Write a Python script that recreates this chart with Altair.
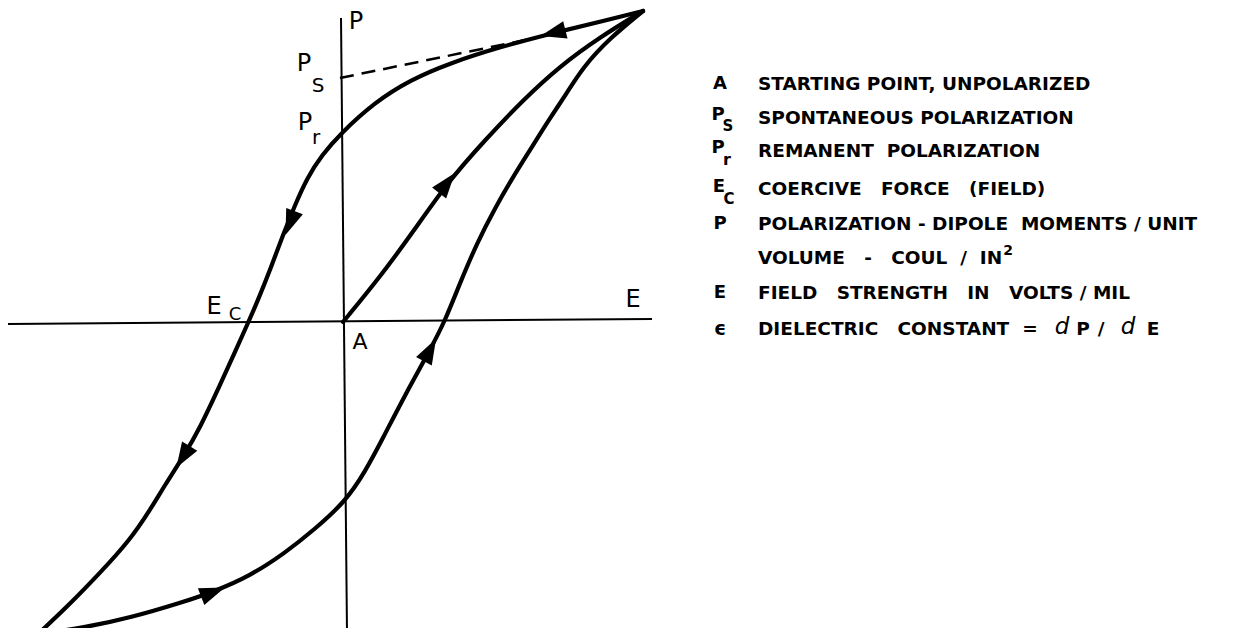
import math
import altair as alt
import pandas as pd

# ---------------- data (E: field, P: polarization; origin at A) ----------------
# descending (upper) branch, in travel order: top tip -> bottom tip
upper_E = [3.00, 2.64, 2.10, 1.57, 1.07, 0.67, 0.32, -0.03, -0.21, -0.36, -0.48, -0.60,
           -0.73, -0.85, -0.95, -1.08, -1.23, -1.43, -1.60, -1.78, -1.93, -2.13, -2.43,
           -2.76, -3.05]
upper_P = [3.11, 3.02, 2.89, 2.75, 2.59, 2.42, 2.20, 1.88, 1.67, 1.44, 1.17, 0.87,
           0.52, 0.22, -0.01, -0.30, -0.63, -1.06, -1.35, -1.63, -1.88, -2.18, -2.51,
           -2.85, -3.12]
# ascending (lower) branch, in travel order: bottom tip -> top tip
lower_E = [-3.05, -2.60, -2.10, -1.63, -1.30, -0.93, -0.58, -0.28, 0.02, 0.22, 0.40,
           0.62, 0.87, 1.02, 1.17, 1.34, 1.52, 1.70, 1.89, 2.07, 2.22, 2.40, 2.67, 3.00]
lower_P = [-3.12, -3.06, -2.95, -2.81, -2.70, -2.54, -2.31, -2.07, -1.80, -1.50, -1.16,
           -0.73, -0.28, 0.01, 0.39, 0.79, 1.14, 1.45, 1.75, 2.04, 2.26, 2.55, 2.84, 3.11]
# initial polarization curve from A (unpolarized) to the tip
initial_E = [0.00, 0.37, 0.70, 1.04, 1.42, 1.80, 2.17, 2.57, 3.00]
initial_P = [0.00, 0.45, 0.90, 1.39, 1.82, 2.22, 2.56, 2.85, 3.11]

# arrowheads: branch and position
arrow_branch = ["upper", "upper", "upper", "initial", "lower", "lower"]
arrow_E = [2.10, -0.53, -1.60, 1.04, -1.30, 0.87]
arrow_P = [2.89, 0.99, -1.35, 1.39, -2.70, -0.28]

# axes (slightly hand-drawn)
axis_E = [-3.35, -0.02]
axis_P = [-0.02, 3.04]
axis_E2 = [3.09, 0.04]
axis_P2 = [0.03, -3.12]

# dashed tangent from Ps
dash_E, dash_P, dash_E2, dash_P2 = [-0.03], [2.44], [1.92], [2.84]

# diagram labels
lab_text = ["P", "P", "S", "P", "r", "E", "C", "A", "E"]
lab_E = [0.13, -0.39, -0.25, -0.38, -0.27, -1.29, -1.08, 0.17, 2.90]
lab_P = [3.00, 2.58, 2.36, 1.99, 1.84, 0.15, 0.07, -0.20, 0.22]
lab_size = [24, 24, 20, 24, 20, 24, 18, 22, 24]

# legend
NB = "\u00a0"
leg_rows_P = [2.38, 2.04, 1.71, 1.33, 0.98, 0.64, 0.29, -0.07]
leg_sym = ["A", "P", "S", "P", "r", "E", "C", "P", "E", "\u03f5"]
leg_sym_E = [3.77, 3.75, 3.85, 3.75, 3.84, 3.76, 3.86, 3.77, 3.77, 3.77]
leg_sym_P = [2.38, 2.07, 1.96, 1.74, 1.62, 1.35, 1.23, 0.98, 0.29, -0.07]
leg_sym_size = [18, 18, 15, 18, 16, 18, 15, 18, 18, 19]

leg_text = ["STARTING POINT, UNPOLARIZED",
            "SPONTANEOUS POLARIZATION",
            "REMANENT " + NB + "POLARIZATION",
            "COERCIVE " + NB * 2 + "FORCE " + NB * 2 + "(FIELD)",
            "POLARIZATION - DIPOLE " + NB + "MOMENTS / UNIT",
            "VOLUME " + NB * 2 + "- " + NB * 2 + "COUL " + NB + "/ " + NB + "IN",
            "FIELD " + NB * 2 + "STRENGTH " + NB * 2 + "IN " + NB * 2 + "VOLTS / MIL",
            "DIELECTRIC " + NB * 2 + "CONSTANT"]
leg_text_E = [4.15] * 8

sup_text, sup_E, sup_P = ["2"], [6.65], [0.71]

eq_text = ["=", "P", "/", "E"]
eq_E = [6.87, 7.40, 7.58, 8.10]
eq_P = [-0.07, -0.07, -0.07, -0.07]
ital_text = ["d", "d"]
ital_E = [7.19, 7.85]
ital_P = [-0.05, -0.05]

# ---------------- tables ----------------
def branch_df(name, es, ps):
    return pd.DataFrame({"branch": name, "idx": range(len(es)), "E": es, "P": ps})

branches = {"upper": (upper_E, upper_P), "lower": (lower_E, lower_P),
            "initial": (initial_E, initial_P)}
curves = pd.concat([branch_df(k, *v) for k, v in branches.items()], ignore_index=True)

angles = []
for b, ae, ap in zip(arrow_branch, arrow_E, arrow_P):
    es, ps = branches[b]
    i = min(range(len(es)), key=lambda k: (es[k] - ae) ** 2 + (ps[k] - ap) ** 2)
    j0, j1 = max(i - 1, 0), min(i + 1, len(es) - 1)
    dE, dP = es[j1] - es[j0], ps[j1] - ps[j0]
    angles.append(math.degrees(math.atan2(dE, dP)) % 360)
arrows = pd.DataFrame({"E": arrow_E, "P": arrow_P, "angle": angles})

axes_df = pd.DataFrame({"E": axis_E, "P": axis_P, "E2": axis_E2, "P2": axis_P2})
dash_df = pd.DataFrame({"E": dash_E, "P": dash_P, "E2": dash_E2, "P2": dash_P2})
labels = pd.DataFrame({"t": lab_text, "E": lab_E, "P": lab_P, "s": lab_size})
legsym = pd.DataFrame({"t": leg_sym, "E": leg_sym_E, "P": leg_sym_P, "s": leg_sym_size})
legtxt = pd.DataFrame({"t": leg_text, "E": leg_text_E, "P": leg_rows_P})
suptxt = pd.DataFrame({"t": sup_text, "E": sup_E, "P": sup_P})
eqtxt = pd.DataFrame({"t": eq_text, "E": eq_E, "P": eq_P})
itxt = pd.DataFrame({"t": ital_text, "E": ital_E, "P": ital_P})

# ---------------- chart ----------------
XS = alt.Scale(domain=[-3.35, 8.91], nice=False, zero=False)
YS = alt.Scale(domain=[-3.06, 3.14], nice=False, zero=False)
X = alt.X("E:Q", scale=XS, axis=None)
Y = alt.Y("P:Q", scale=YS, axis=None)
FONT = "DejaVu Sans"
LEG_SIZE = 18.5

axes_layer = alt.Chart(axes_df).mark_rule(color="black", strokeWidth=2).encode(
    x=X, y=Y, x2="E2:Q", y2="P2:Q")
dash_layer = alt.Chart(dash_df).mark_rule(color="black", strokeWidth=2.5,
                                           strokeDash=[14, 8]).encode(
    x=X, y=Y, x2="E2:Q", y2="P2:Q")
curve_layer = alt.Chart(curves).mark_line(color="black", strokeWidth=4.2,
                                          interpolate="basis",
                                          strokeCap="round", strokeJoin="round").encode(
    x=X, y=Y, detail="branch:N", order="idx:Q")
arrow_layer = alt.Chart(arrows).mark_point(
    shape="M0,-1L0.7,1L-0.7,1Z", filled=True, color="black", opacity=1,
    size=650, strokeWidth=0).encode(
    x=X, y=Y, angle=alt.Angle("angle:Q", scale=None))
label_layer = alt.Chart(labels).mark_text(font=FONT, color="black", align="center",
                                          baseline="middle").encode(
    x=X, y=Y, text="t:N", size=alt.Size("s:Q", scale=None))
legsym_layer = alt.Chart(legsym).mark_text(font=FONT, fontWeight="bold", color="black",
                                           align="center", baseline="middle").encode(
    x=X, y=Y, text="t:N", size=alt.Size("s:Q", scale=None))
legtxt_layer = alt.Chart(legtxt).mark_text(font=FONT, fontWeight="bold",
                                           fontSize=LEG_SIZE, color="black",
                                           align="left", baseline="middle").encode(
    x=X, y=Y, text="t:N")
sup_layer = alt.Chart(suptxt).mark_text(font=FONT, fontWeight="bold", fontSize=14,
                                        color="black", align="center",
                                        baseline="middle").encode(
    x=X, y=Y, text="t:N")
eq_layer = alt.Chart(eqtxt).mark_text(font=FONT, fontWeight="bold", fontSize=LEG_SIZE,
                                      color="black", align="center",
                                      baseline="middle").encode(
    x=X, y=Y, text="t:N")
ital_layer = alt.Chart(itxt).mark_text(font=FONT, fontStyle="italic", fontSize=23,
                                       color="black", align="center",
                                       baseline="middle").encode(
    x=X, y=Y, text="t:N")

chart = alt.layer(axes_layer, dash_layer, curve_layer, arrow_layer, label_layer,
                  legsym_layer, legtxt_layer, sup_layer, eq_layer, ital_layer).properties(
    width=1226, height=620, padding=0, autosize=alt.AutoSizeParams(type="none"),
    background="white"
).configure_view(strokeWidth=0)

chart.save("out.html", embed_options={"renderer": "svg", "actions": False})
